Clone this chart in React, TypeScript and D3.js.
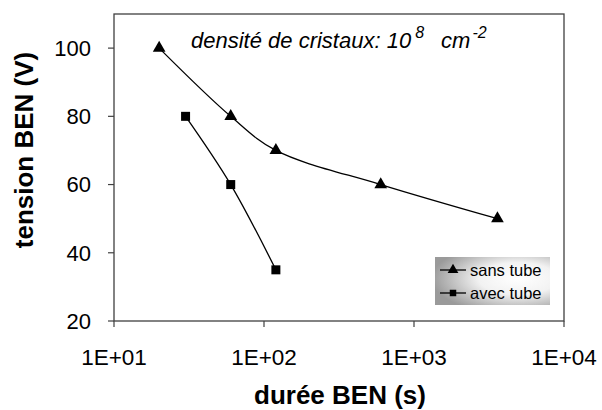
import * as d3 from "d3";

// durée BEN (s) vs tension BEN (V)
const sansTubeX = [20, 60, 120, 600, 3600];
const sansTubeY = [100, 80, 70, 60, 50];
const avecTubeX = [30, 60, 120];
const avecTubeY = [80, 60, 35];
const xTicks = [10, 100, 1000, 10000];
const xTickLabels = ["1E+01", "1E+02", "1E+03", "1E+04"];
const yTicks = [20, 40, 60, 80, 100];

const W = 602;
const H = 410;
const left = 114;
const right = 564;
const top = 14;
const bottom = 321;
const font = "Liberation Sans, Arial, sans-serif";

export default function App() {
  const x = d3.scaleLog().domain([10, 10000]).range([left, right]);
  const y = d3.scaleLinear().domain([20, 110]).range([bottom, top]);

  const line = d3
    .line<[number, number]>()
    .x((d) => x(d[0]))
    .y((d) => y(d[1]))
    .curve(d3.curveCatmullRom.alpha(0.5));

  const sans: [number, number][] = sansTubeX.map((v, i) => [v, sansTubeY[i]]);
  const avec: [number, number][] = avecTubeX.map((v, i) => [v, avecTubeY[i]]);

  const tri = d3.symbol().type(d3.symbolTriangle).size(70)()!;
  const sq = d3.symbol().type(d3.symbolSquare).size(81)()!;
  const triSmall = d3.symbol().type(d3.symbolTriangle).size(50)()!;
  const sqSmall = d3.symbol().type(d3.symbolSquare).size(42)()!;

  return (
    <svg
      width={W}
      height={H}
      style={{ position: "absolute", left: 0, top: 0, background: "#fff" }}
      fontFamily={font}
    >
      <defs>
        <radialGradient id="lg" cx="0.72" cy="0.45" r="0.75" fx="0.72" fy="0.45">
          <stop offset="0" stopColor="#ffffff" />
          <stop offset="0.45" stopColor="#f2f2f2" />
          <stop offset="1" stopColor="#9a9a9a" />
        </radialGradient>
      </defs>
      <rect x={0} y={0} width={W} height={H} fill="#fff" />
      {/* plot frame */}
      <rect
        x={left}
        y={top}
        width={right - left}
        height={bottom - top}
        fill="none"
        stroke="#404040"
        strokeWidth={1.3}
      />
      {/* y axis */}
      {yTicks.map((t) => (
        <g key={t}>
          <line x1={left - 6} x2={left} y1={y(t)} y2={y(t)} stroke="#404040" strokeWidth={1.2} />
          <text x={left - 23} y={y(t)} dy="0.36em" textAnchor="end" fontSize={22}>
            {t}
          </text>
        </g>
      ))}
      {/* x axis */}
      {xTicks.map((t, i) => (
        <g key={t}>
          <line x1={x(t)} x2={x(t)} y1={bottom} y2={bottom + 6} stroke="#404040" strokeWidth={1.2} />
          <text x={x(t)} y={365} textAnchor="middle" fontSize={22.5}>
            {xTickLabels[i]}
          </text>
        </g>
      ))}
      <text x={340} y={404} textAnchor="middle" fontSize={26} fontWeight="bold">
        durée BEN (s)
      </text>
      <text
        transform="translate(33,150) rotate(-90)"
        textAnchor="middle"
        fontSize={26}
        fontWeight="bold"
      >
        tension BEN (V)
      </text>
      <text x={191} y={48} fontSize={22} fontStyle="italic">
        densité de cristaux: 10
        <tspan dx={4} dy={-10} fontSize={16}>8</tspan>
        <tspan dx={17} dy={10}>cm</tspan>
        <tspan dx={2} dy={-10} fontSize={16}>-2</tspan>
      </text>

      {/* series */}
      <path d={line(sans)!} fill="none" stroke="#000" strokeWidth={1.3} />
      <path d={line(avec)!} fill="none" stroke="#000" strokeWidth={1.3} />
      {sans.map((d, i) => (
        <path key={i} d={tri} transform={`translate(${x(d[0])},${y(d[1])})`} fill="#000" />
      ))}
      {avec.map((d, i) => (
        <path key={i} d={sq} transform={`translate(${x(d[0])},${y(d[1])})`} fill="#000" />
      ))}

      {/* legend */}
      <rect x={435} y={257} width={115} height={48} fill="url(#lg)" />
      <line x1={440} x2={466} y1={270} y2={270} stroke="#000" strokeWidth={1.3} />
      <path d={triSmall} transform="translate(453,270)" fill="#000" />
      <text x={470} y={275.5} fontSize={16.5}>
        sans tube
      </text>
      <line x1={440} x2={466} y1={293} y2={293} stroke="#000" strokeWidth={1.3} />
      <path d={sqSmall} transform="translate(453,293)" fill="#000" />
      <text x={470} y={298.5} fontSize={16.5}>
        avec tube
      </text>
    </svg>
  );
}
